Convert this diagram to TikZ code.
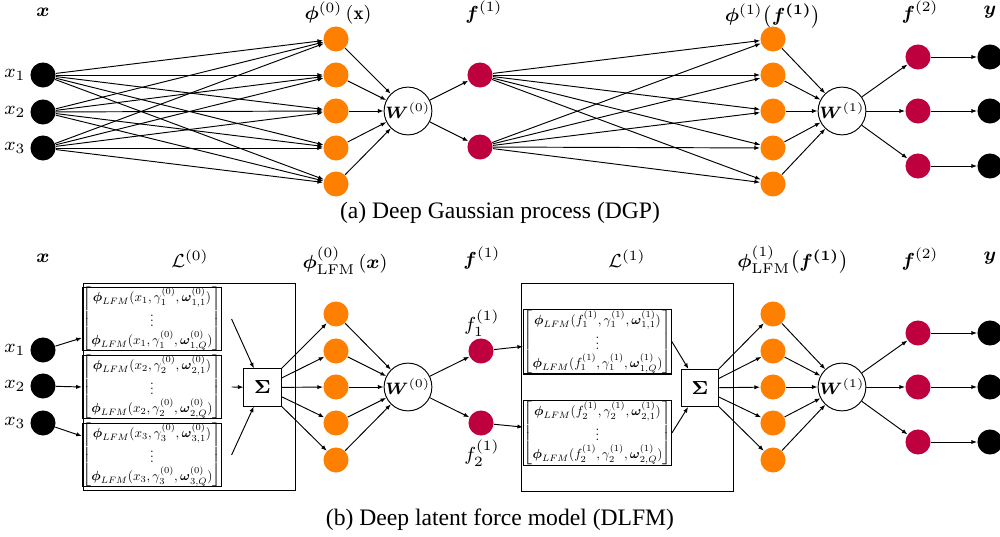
\documentclass[tikz,border=0pt]{standalone}
\usepackage{amsmath}
\usepackage{graphicx}
\usepackage{fontspec}
\newfontfamily\capfont{Liberation Serif}
\usepackage[usenames]{xcolor}
\usepackage{tikz}
\usetikzlibrary{arrows.meta}

\definecolor{phiorange}{RGB}{255,128,0}
\definecolor{fcrimson}{RGB}{190,0,62}

\begin{document}
\begin{tikzpicture}[x=0.4236pt,y=-0.4236pt,>={Latex[length=2.4pt,width=1.8pt]},
    xnode/.style={shape=circle,fill=black,minimum size=10.6pt,inner sep=0pt},
    phinode/.style={shape=circle,fill=phiorange,minimum size=10.6pt,inner sep=0pt},
    fnode/.style={shape=circle,fill=fcrimson,minimum size=10.6pt,inner sep=0pt},
    wnode/.style={draw,shape=circle,minimum size=15.7pt,inner sep=0pt,font=\scriptsize},
    sumnode/.style={draw,minimum size=15.7pt,inner sep=0pt,font=\footnotesize},
    lfmbox/.style={draw,semithick,inner sep=0pt,font=\renewcommand{\arraystretch}{0.85}},
    layerbox/.style={draw,inner sep=0pt},
    lbl/.style={font=\footnotesize,inner sep=0pt}]

    \useasboundingbox (0,0) rectangle (1000,537);

    % (a) deep GP
    \node[lbl] (tx)    at (43,12)  {$\boldsymbol{x}$};
    \node[lbl] (tphi0) at (338,13) {$\boldsymbol{\phi}^{(0)}\left(\mathbf{x}\right)$};
    \node[lbl] (tf1)   at (484,12) {$\boldsymbol{f}^{(1)}$};
    \node[lbl] (tphi1) at (773,16) {$\boldsymbol{\phi}^{(1)}\bigl(\boldsymbol{f^{(1)}}\bigr)$};
    \node[lbl] (tf2)   at (920,12) {$\boldsymbol{f}^{(2)}$};
    \node[lbl] (ty)    at (990,12) {$\boldsymbol{y}$};

    \node[xnode] (xa1) at (43,75)  {};
    \node[xnode] (xa2) at (43,112) {};
    \node[xnode] (xa3) at (43,148) {};
    \node[lbl] (lxa1) at (15,75)  {$x_1$};
    \node[lbl] (lxa2) at (15,112) {$x_2$};
    \node[lbl] (lxa3) at (15,148) {$x_3$};

    \node[phinode] (pa1) at (336,39)  {};
    \node[phinode] (pa2) at (336,75)  {};
    \node[phinode] (pa3) at (336,111) {};
    \node[phinode] (pa4) at (336,148) {};
    \node[phinode] (pa5) at (336,184) {};

    \node[wnode] (wa0) at (408,111) {$\boldsymbol{W}^{(0)}$};

    \node[fnode] (fa1) at (480,75)  {};
    \node[fnode] (fa2) at (480,147) {};

    \node[phinode] (qa1) at (773,39)  {};
    \node[phinode] (qa2) at (773,75)  {};
    \node[phinode] (qa3) at (773,111) {};
    \node[phinode] (qa4) at (773,148) {};
    \node[phinode] (qa5) at (773,184) {};

    \node[wnode] (wa1) at (842,111) {$\boldsymbol{W}^{(1)}$};

    \node[fnode] (ga1) at (918,57)  {};
    \node[fnode] (ga2) at (918,111) {};
    \node[fnode] (ga3) at (918,166) {};

    \node[xnode] (ya1) at (990,57)  {};
    \node[xnode] (ya2) at (990,111) {};
    \node[xnode] (ya3) at (990,166) {};

    \draw[->] (xa1) -- (pa1);
    \draw[->] (xa1) -- (pa2);
    \draw[->] (xa1) -- (pa3);
    \draw[->] (xa1) -- (pa4);
    \draw[->] (xa1) -- (pa5);
    \draw[->] (xa2) -- (pa1);
    \draw[->] (xa2) -- (pa2);
    \draw[->] (xa2) -- (pa3);
    \draw[->] (xa2) -- (pa4);
    \draw[->] (xa2) -- (pa5);
    \draw[->] (xa3) -- (pa1);
    \draw[->] (xa3) -- (pa2);
    \draw[->] (xa3) -- (pa3);
    \draw[->] (xa3) -- (pa4);
    \draw[->] (xa3) -- (pa5);

    \draw[->] (pa1) -- (wa0);
    \draw[->] (pa2) -- (wa0);
    \draw[->] (pa3) -- (wa0);
    \draw[->] (pa4) -- (wa0);
    \draw[->] (pa5) -- (wa0);

    \draw[->] (wa0) -- (fa1);
    \draw[->] (wa0) -- (fa2);

    \draw[->] (fa1) -- (qa1);
    \draw[->] (fa1) -- (qa2);
    \draw[->] (fa1) -- (qa3);
    \draw[->] (fa1) -- (qa4);
    \draw[->] (fa1) -- (qa5);
    \draw[->] (fa2) -- (qa1);
    \draw[->] (fa2) -- (qa2);
    \draw[->] (fa2) -- (qa3);
    \draw[->] (fa2) -- (qa4);
    \draw[->] (fa2) -- (qa5);

    \draw[->] (qa1) -- (wa1);
    \draw[->] (qa2) -- (wa1);
    \draw[->] (qa3) -- (wa1);
    \draw[->] (qa4) -- (wa1);
    \draw[->] (qa5) -- (wa1);

    \draw[->] (wa1) -- (ga1);
    \draw[->] (wa1) -- (ga2);
    \draw[->] (wa1) -- (ga3);

    \draw[->] (ga1) -- (ya1);
    \draw[->] (ga2) -- (ya2);
    \draw[->] (ga3) -- (ya3);

    \node[font=\capfont] (capa) at (500,213) {(a) Deep Gaussian process (DGP)};

    % (b) deep LFM
    \node[lbl] (ux)    at (43,258)  {$\boldsymbol{x}$};
    \node[lbl] (uL0)   at (190,259) {$\mathcal{L}^{(0)}$};
    \node[lbl] (uphi0) at (345,261) {$\boldsymbol{\phi}^{(0)}_{\mathrm{LFM}}\left(\boldsymbol{x}\right)$};
    \node[lbl] (uf1)   at (482,258) {$\boldsymbol{f}^{(1)}$};
    \node[lbl] (uL1)   at (627,259) {$\mathcal{L}^{(1)}$};
    \node[lbl] (uphi1) at (793,260) {$\boldsymbol{\phi}^{(1)}_{\mathrm{LFM}}\bigl(\boldsymbol{f^{(1)}}\bigr)$};
    \node[lbl] (uf2)   at (920,259) {$\boldsymbol{f}^{(2)}$};
    \node[lbl] (uy)    at (990,258) {$\boldsymbol{y}$};

    \node[xnode] (xb1) at (43,350) {};
    \node[xnode] (xb2) at (43,386) {};
    \node[xnode] (xb3) at (43,423) {};
    \node[lbl] (lxb1) at (15,350) {$x_1$};
    \node[lbl] (lxb2) at (15,386) {$x_2$};
    \node[lbl] (lxb3) at (15,423) {$x_3$};

    \node[layerbox,minimum width=90.2pt,minimum height=87.7pt] (L0) at (189.5,386.5) {};
    \node[lfmbox,minimum width=51.9pt,minimum height=26.7pt] (m1) at (152,319)
        {\scalebox{0.56}{$\begin{bmatrix}\boldsymbol{\phi}_{LFM}(x_1,\gamma_1^{(0)},\boldsymbol{\omega}_{1,1}^{(0)})\\ \vdots\\ \boldsymbol{\phi}_{LFM}(x_1,\gamma_1^{(0)},\boldsymbol{\omega}_{1,Q}^{(0)})\end{bmatrix}$}};
    \node[lfmbox,minimum width=51.9pt,minimum height=26.7pt] (m2) at (152,387)
        {\scalebox{0.56}{$\begin{bmatrix}\boldsymbol{\phi}_{LFM}(x_2,\gamma_2^{(0)},\boldsymbol{\omega}_{2,1}^{(0)})\\ \vdots\\ \boldsymbol{\phi}_{LFM}(x_2,\gamma_2^{(0)},\boldsymbol{\omega}_{2,Q}^{(0)})\end{bmatrix}$}};
    \node[lfmbox,minimum width=51.9pt,minimum height=26.7pt] (m3) at (152,455)
        {\scalebox{0.56}{$\begin{bmatrix}\boldsymbol{\phi}_{LFM}(x_3,\gamma_3^{(0)},\boldsymbol{\omega}_{3,1}^{(0)})\\ \vdots\\ \boldsymbol{\phi}_{LFM}(x_3,\gamma_3^{(0)},\boldsymbol{\omega}_{3,Q}^{(0)})\end{bmatrix}$}};
    \node[sumnode] (s0) at (262.5,387.5) {$\boldsymbol{\Sigma}$};

    \node[phinode] (pb1) at (336,314) {};
    \node[phinode] (pb2) at (336,351) {};
    \node[phinode] (pb3) at (336,387) {};
    \node[phinode] (pb4) at (336,423) {};
    \node[phinode] (pb5) at (336,460) {};

    \node[wnode] (wb0) at (408,387) {$\boldsymbol{W}^{(0)}$};

    \node[fnode] (fb1) at (481,351) {};
    \node[fnode] (fb2) at (481,423) {};
    \node[lbl] (lfb1) at (482,323) {$f_1^{(1)}$};
    \node[lbl] (lfb2) at (482,453) {$f_2^{(1)}$};

    \node[layerbox,minimum width=89.8pt,minimum height=88.1pt] (L1) at (627,387) {};
    \node[lfmbox,minimum width=59.5pt,minimum height=27.4pt] (n1) at (597.5,341.7)
        {\scalebox{0.56}{$\begin{bmatrix}\boldsymbol{\phi}_{LFM}(f_1^{(1)},\gamma_1^{(1)},\boldsymbol{\omega}_{1,1}^{(1)})\\ \vdots\\ \boldsymbol{\phi}_{LFM}(f_1^{(1)},\gamma_1^{(1)},\boldsymbol{\omega}_{1,Q}^{(1)})\end{bmatrix}$}};
    \node[lfmbox,minimum width=59.5pt,minimum height=27.4pt] (n2) at (597.5,433)
        {\scalebox{0.56}{$\begin{bmatrix}\boldsymbol{\phi}_{LFM}(f_2^{(1)},\gamma_2^{(1)},\boldsymbol{\omega}_{2,1}^{(1)})\\ \vdots\\ \boldsymbol{\phi}_{LFM}(f_2^{(1)},\gamma_2^{(1)},\boldsymbol{\omega}_{2,Q}^{(1)})\end{bmatrix}$}};
    \node[sumnode] (s1) at (700,388) {$\boldsymbol{\Sigma}$};

    \node[phinode] (qb1) at (773,314) {};
    \node[phinode] (qb2) at (773,351) {};
    \node[phinode] (qb3) at (773,387) {};
    \node[phinode] (qb4) at (773,423) {};
    \node[phinode] (qb5) at (773,460) {};

    \node[wnode] (wb1) at (842,387) {$\boldsymbol{W}^{(1)}$};

    \node[fnode] (gb1) at (918,333) {};
    \node[fnode] (gb2) at (918,387) {};
    \node[fnode] (gb3) at (918,442) {};

    \node[xnode] (yb1) at (990,333) {};
    \node[xnode] (yb2) at (990,387) {};
    \node[xnode] (yb3) at (990,442) {};

    \draw[->] (xb1) -- ([yshift=-8pt]m1.west);
    \draw[->] (xb2) -- (m2.west);
    \draw[->] (xb3) -- ([yshift=8pt]m3.west);

    \draw[->] ([xshift=4pt]m1.east) -- (s0);
    \draw[->] ([xshift=4pt]m2.east) -- (s0);
    \draw[->] ([xshift=4pt]m3.east) -- (s0);

    \draw[->] (s0) -- (pb1);
    \draw[->] (s0) -- (pb2);
    \draw[->] (s0) -- (pb3);
    \draw[->] (s0) -- (pb4);
    \draw[->] (s0) -- (pb5);

    \draw[->] (pb1) -- (wb0);
    \draw[->] (pb2) -- (wb0);
    \draw[->] (pb3) -- (wb0);
    \draw[->] (pb4) -- (wb0);
    \draw[->] (pb5) -- (wb0);

    \draw[->] (wb0) -- (fb1);
    \draw[->] (wb0) -- (fb2);

    \draw[->] (fb1) -- ([yshift=-2pt]n1.west);
    \draw[->] (fb2) -- ([yshift=2.5pt]n2.west);

    \draw[->] (n1.east) -- (s1);
    \draw[->] (n2.east) -- (s1);

    \draw[->] (s1) -- (qb1);
    \draw[->] (s1) -- (qb2);
    \draw[->] (s1) -- (qb3);
    \draw[->] (s1) -- (qb4);
    \draw[->] (s1) -- (qb5);

    \draw[->] (qb1) -- (wb1);
    \draw[->] (qb2) -- (wb1);
    \draw[->] (qb3) -- (wb1);
    \draw[->] (qb4) -- (wb1);
    \draw[->] (qb5) -- (wb1);

    \draw[->] (wb1) -- (gb1);
    \draw[->] (wb1) -- (gb2);
    \draw[->] (wb1) -- (gb3);

    \draw[->] (gb1) -- (yb1);
    \draw[->] (gb2) -- (yb2);
    \draw[->] (gb3) -- (yb3);

    \node[font=\capfont] (capb) at (500,520) {(b) Deep latent force model (DLFM)};

\end{tikzpicture}
\end{document}
